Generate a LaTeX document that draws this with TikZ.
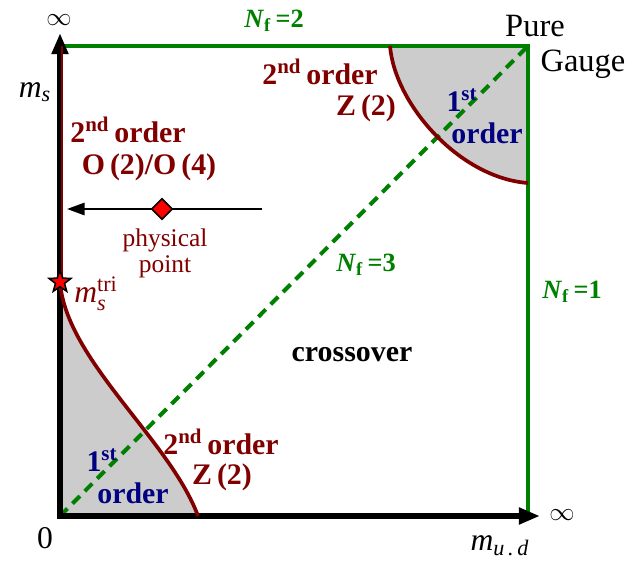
\documentclass[tikz,border=0pt]{standalone}
\usepackage{amsmath}
\usepackage{fontspec}
\setmainfont{Liberation Serif}
\usetikzlibrary{arrows.meta, shapes.geometric}
\definecolor{darkred}{RGB}{128,0,0}
\definecolor{darkgreen}{RGB}{0,128,0}
\definecolor{navyblue}{RGB}{0,0,128}

\begin{document}
\begin{tikzpicture}[x=0.02cm, y=-0.02cm, inner sep=0pt,
  axis/.style={line width=3.2pt, line join=miter},
  nfline/.style={darkgreen, line width=2.3pt},
  crit/.style={darkred, line width=2.1pt},
  region/.style={fill=black!20},
  ordtxt/.style={darkred, font=\fontsize{17}{20}\selectfont\bfseries},
  firsttxt/.style={navyblue, font=\fontsize{17}{20}\selectfont\bfseries},
  nftxt/.style={darkgreen, font=\fontsize{15}{17}\selectfont\bfseries},
  axtxt/.style={font=\fontsize{18}{20}\selectfont},
  inftxt/.style={font=\fontsize{14}{16}\selectfont}]
  \useasboundingbox (0,0) rectangle (640,561);
  \coordinate (orig) at (60,516);
  \coordinate (msinf) at (60,46);
  \coordinate (pg) at (528,46);
  \coordinate (mudinf) at (528,516);
  % first order corners
  \fill[region] (390,46) .. controls (395,105) and (460,178) .. (528,183) -- (pg) -- cycle;
  \fill[region] (60,282) .. controls (66,360) and (170,440) .. (198,516) -- (orig) -- cycle;
  % Nf lines
  \draw[nfline] (msinf) -- (pg) -- (mudinf);
  \draw[nfline, dash pattern=on 6pt off 4pt] (orig) -- (pg);
  % axes
  \draw[axis, {Triangle[length=12pt,width=9pt]}-{Triangle[length=12pt,width=9pt]}]
        (60,33) -- (orig) -- (540,516);
  \draw[darkred, line width=1.5pt] (62,46) -- (62,282);
  % critical lines
  \draw[crit] (390,46) .. controls (395,105) and (460,178) .. (528,183);
  \draw[crit] (60,282) .. controls (66,360) and (170,440) .. (198,516);
  % physical point
  \coordinate (physstart) at (262,209);
  \coordinate (chiral) at (67,209);
  \draw[line width=1.2pt, -{Triangle[length=10pt,width=7pt]}] (physstart) -- (chiral);
  \node[diamond, fill=red, draw=black, line width=0.9pt, minimum size=12pt] (phys) at (162,209) {};
  \node[star, star points=5, star point ratio=2.4, fill=red, draw=black, line width=0.9pt,
        minimum size=13pt] (tri) at (60,282) {};

  \node[inftxt] (inftop) at (59,20) {$\infty$};
  \node[inftxt] (infright) at (562,515) {$\infty$};
  \node[axtxt] (zero) at (45,538) {0};
  \node[axtxt] (mslbl) at (35,92) {$\textit{m}_{\textit{s}}$};
  \node[axtxt] (mudlbl) at (500,546) {$\textit{m}_{\textit{u\,.\,d}}$};
  \node[font=\fontsize{18.5}{21}\selectfont] (pure) at (535,26) {Pure};
  \node[font=\fontsize{18.5}{21}\selectfont] (gauge) at (583,64) {Gauge};

  \node[nftxt] (nf2) at (274,21) {\textit{N}$_{\textbf{f}}$\,=2};
  \node[nftxt] (nf3) at (366,265) {\textit{N}$_{\textbf{f}}$\,=3};
  \node[nftxt] (nf1) at (572,292) {\textit{N}$_{\textbf{f}}$\,=1};

  \node[ordtxt] (o4a) at (128,130) {2\textsuperscript{nd}\,order};
  \node[ordtxt] (o4b) at (149,167) {O\,(2)/O\,(4)};
  \node[darkred, font=\fontsize{14.5}{16}\selectfont] (physa) at (165,240) {physical};
  \node[darkred, font=\fontsize{14.5}{16}\selectfont] (physb) at (165,267) {point};
  \node[darkred, axtxt, anchor=west] (mtri) at (74,294) {$\textit{m}_{\textit{s}}^{\textup{tri}}$};

  \node[ordtxt] (z2topa) at (320,72) {2\textsuperscript{nd}\,order};
  \node[ordtxt] (z2topb) at (366,108) {Z\,(2)};
  \node[firsttxt] (fotopa) at (462,100) {1\textsuperscript{st}};
  \node[firsttxt] (fotopb) at (487,133) {order};

  \node[ordtxt] (z2bota) at (221,442) {2\textsuperscript{nd}\,order};
  \node[ordtxt] (z2botb) at (222,477) {Z\,(2)};
  \node[firsttxt] (fobota) at (102,460) {1\textsuperscript{st}};
  \node[firsttxt] (fobotb) at (133,493) {order};

  \node[font=\fontsize{17}{20}\selectfont\bfseries] (xover) at (352,355) {crossover};
\end{tikzpicture}
\end{document}
